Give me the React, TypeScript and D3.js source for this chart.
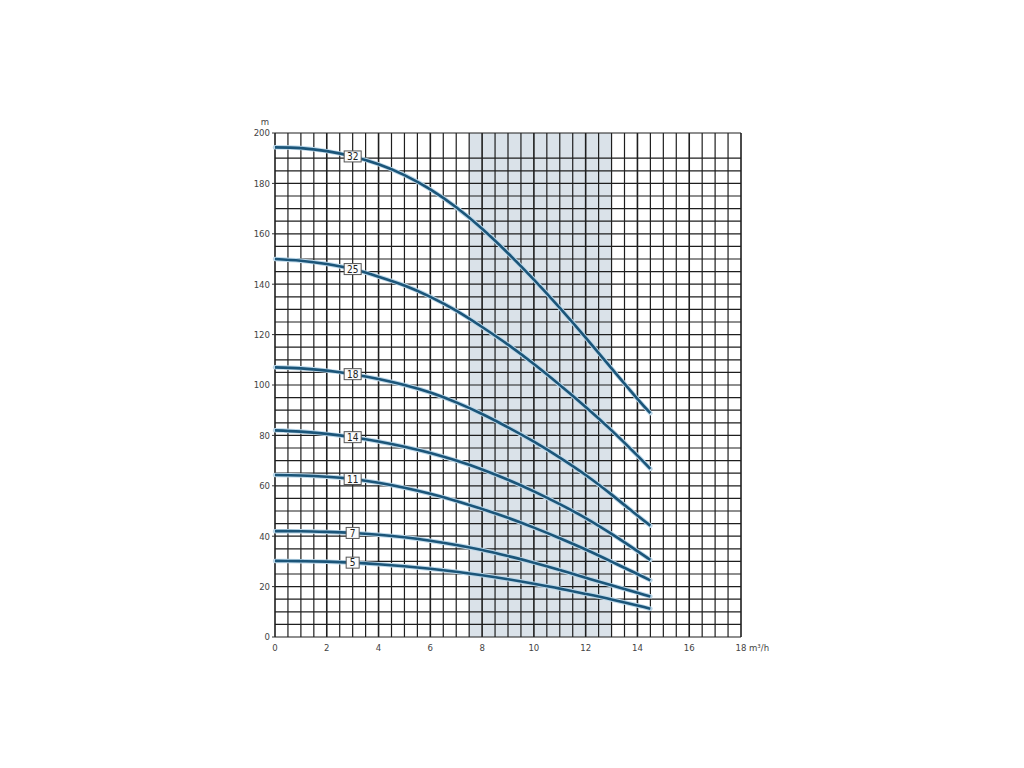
import React from "react";
import * as d3 from "d3";

const xTicks = [0, 2, 4, 6, 8, 10, 12, 14, 16, 18];
const yTicks = [0, 20, 40, 60, 80, 100, 120, 140, 160, 180, 200];
const shadedRange = [7.5, 13];

const flowX = [0, 1, 2, 3, 4, 5, 6, 7, 8, 9, 10, 11, 12, 13, 14, 14.5];
const head32 = [194.3, 194, 192.8, 190.7, 187.6, 183.3, 177.6, 170.5, 162, 152.3, 141.8, 130.6, 118.8, 106.6, 94.5, 88.8];
const head25 = [150, 149.3, 148, 146, 143, 139.5, 135, 129.5, 123, 116, 108.3, 100, 91.3, 82, 72, 66.7];
const head18 = [107, 106.6, 105.7, 104.3, 102.4, 100, 97, 93.1, 88.5, 83.2, 77.5, 71.2, 64.3, 56.5, 48.2, 44.2];
const head14 = [82, 81.5, 80.6, 79.3, 77.6, 75.5, 73, 70, 66.5, 62.4, 57.8, 52.7, 47.2, 40.9, 34.1, 30.6];
const head11 = [64.3, 64.1, 63.6, 62.7, 61.2, 59.2, 56.8, 54, 50.8, 47.3, 43.4, 39.2, 34.7, 29.9, 25, 22.5];
const head7 = [42, 41.95, 41.7, 41.3, 40.6, 39.6, 38.2, 36.5, 34.5, 32.1, 29.5, 26.6, 23.5, 20.5, 17.6, 16.1];
const head5 = [30.2, 30.1, 29.9, 29.5, 28.9, 28.1, 27.1, 25.9, 24.5, 22.9, 21.1, 19.2, 17.1, 14.9, 12.5, 11.2];

const curveLabels = ["32", "25", "18", "14", "11", "7", "5"];
const curveHeads = [head32, head25, head18, head14, head11, head7, head5];
const labelX = 3;

export default function App() {
  const x = d3.scaleLinear().domain([0, 18]).range([275, 741]);
  const y = d3.scaleLinear().domain([0, 200]).range([637, 133]);

  const vLines = d3.range(0, 18.01, 0.5);
  const hLines = d3.range(0, 190.01, 5).concat([200]);

  const line = d3
    .line<[number, number]>()
    .x((d) => x(d[0]))
    .y((d) => y(d[1]))
    .curve(d3.curveNatural);

  const font = "'Liberation Sans Narrow', 'DejaVu Sans Condensed', 'Open Sans', sans-serif";

  return (
    <svg
      width={1024}
      height={768}
      style={{ position: "absolute", left: 0, top: 0, background: "#fff" }}
    >
      <rect
        x={x(shadedRange[0])}
        y={y(200)}
        width={x(shadedRange[1]) - x(shadedRange[0])}
        height={y(0) - y(200)}
        fill="#dae2e9"
      />
      {vLines.map((v, i) => (
        <line
          key={"v" + i}
          x1={x(v)}
          x2={x(v)}
          y1={y(0)}
          y2={y(200)}
          stroke="#1e1e1e"
          strokeWidth={v % 2 === 0 ? 1.6 : 1.2}
        />
      ))}
      {hLines.map((v, i) => (
        <line
          key={"h" + i}
          x1={x(0)}
          x2={x(18)}
          y1={y(v)}
          y2={y(v)}
          stroke="#1e1e1e"
          strokeWidth={1.2}
        />
      ))}
      {yTicks.map((t) => (
        <g key={"yt" + t}>
          <line x1={x(0) - 3} x2={x(0)} y1={y(t)} y2={y(t)} stroke="#333" strokeWidth={1} />
          <text
            x={x(0) - 5}
            y={y(t)}
            dy="0.35em"
            textAnchor="end"
            fontSize={9.5}
            fill="#444"
            fontFamily={font}
          >
            {t}
          </text>
        </g>
      ))}
      <text x={265} y={125} textAnchor="middle" fontSize={9.5} fill="#444" fontFamily={font}>
        m
      </text>
      {xTicks.map((t) => (
        <text
          key={"xt" + t}
          x={x(t)}
          y={651}
          textAnchor="middle"
          fontSize={9.5}
          fill="#444"
          fontFamily={font}
        >
          {t}
        </text>
      ))}
      <text x={749} y={651} textAnchor="start" fontSize={9.5} fill="#444" fontFamily={font}>
        m³/h
      </text>
      {curveHeads.map((h, i) => {
        const pts: [number, number][] = flowX.map((f, j) => [f, h[j]]);
        const d = line(pts) || "";
        return (
          <g key={"c" + i}>
            <path d={d} fill="none" stroke="#bcd8ea" strokeWidth={4.5} strokeLinecap="round" />
            <path d={d} fill="none" stroke="#1b5579" strokeWidth={2.6} />
          </g>
        );
      })}
      {curveHeads.map((h, i) => {
        const cy = y(h[flowX.indexOf(labelX)]);
        const cx = x(labelX);
        const w = curveLabels[i].length > 1 ? 17 : 13;
        return (
          <g key={"l" + i}>
            <rect
              x={cx - w / 2}
              y={cy - 5.5}
              width={w}
              height={11}
              fill="#fbfbfb"
              stroke="#555"
              strokeWidth={1}
            />
            <text
              x={cx}
              y={cy}
              dy="0.36em"
              textAnchor="middle"
              fontSize={10}
              fill="#222"
              fontFamily={font}
            >
              {curveLabels[i]}
            </text>
          </g>
        );
      })}
    </svg>
  );
}
